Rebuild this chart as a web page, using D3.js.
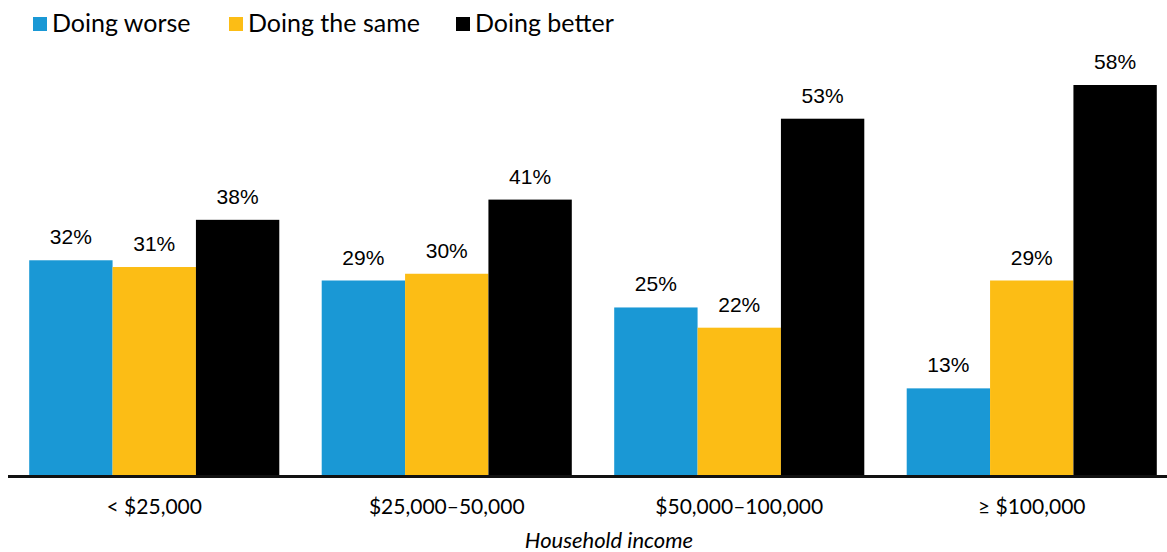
<!DOCTYPE html>
<html>
<head>
<meta charset="utf-8">
<script src="https://cdn.jsdelivr.net/npm/d3@7"></script>
<style>
  html, body { margin: 0; padding: 0; background: #fff; }
  svg { display: block; }
  text { fill: #000; }
</style>
</head>
<body>
<div id="chart"></div>
<script>
// data
var incomes = ["< $25,000", "$25,000\u201350,000", "$50,000\u2013100,000", "\u2265 $100,000"];
var series = ["Doing worse", "Doing the same", "Doing better"];
var worse = [32, 29, 25, 13];
var same = [31, 30, 22, 29];
var better = [38, 41, 53, 58];
var colors = ["#1a98d5", "#fcbd15", "#000000"];

var width = 1167, height = 552;

var svg = d3.select("#chart").append("svg")
  .attr("width", width)
  .attr("height", height);

var values = [worse, same, better];
var data = incomes.map(function(c, i) {
  return series.map(function(s, j) { return { key: s, value: values[j][i], color: colors[j] }; });
});

var x = d3.scaleBand()
  .domain(incomes)
  .range([8, 1178])
  .paddingInner(0.145)
  .paddingOuter(0.0725);

var xs = d3.scaleBand()
  .domain(series)
  .range([0, x.bandwidth()]);

var y = d3.scaleLinear()
  .domain([0, 58])
  .range([476, 85]);

var group = svg.selectAll(".group")
  .data(data)
  .join("g")
    .attr("class", "group")
    .attr("transform", (d, i) => `translate(${x(incomes[i])},0)`);

group.selectAll("rect")
  .data(d => d)
  .join("rect")
    .attr("x", d => xs(d.key))
    .attr("y", d => y(d.value))
    .attr("width", xs.bandwidth())
    .attr("height", d => y(0) - y(d.value))
    .style("fill", d => d.color);

group.selectAll(".value")
  .data(d => d)
  .join("text")
    .attr("class", "value")
    .attr("x", d => xs(d.key) + xs.bandwidth() / 2)
    .attr("y", d => y(d.value) - 16)
    .attr("text-anchor", "middle")
    .style("font-family", "'Liberation Sans', Arial, sans-serif")
    .style("font-size", "21px")
    .text(d => d.value + "%");

// x axis
var axis = svg.append("g")
  .attr("transform", `translate(0,${y(0)})`)
  .call(d3.axisBottom(x).tickSize(0).tickPadding(23));

axis.select(".domain")
  .attr("d", "M8,0.5H1167")
  .attr("stroke", "#111")
  .attr("stroke-width", 3);

axis.selectAll(".tick text")
  .style("font-family", "Lato, sans-serif")
  .style("font-size", "21px")
  .attr("fill", "#000");

svg.append("text")
  .attr("x", 609)
  .attr("y", 548)
  .attr("text-anchor", "middle")
  .style("font-family", "Lato, sans-serif")
  .style("font-style", "italic")
  .style("font-size", "22px")
  .text("Household income");

// legend
var legendX = [33, 229, 456];
var legend = svg.append("g")
  .attr("class", "legend")
  .selectAll("g")
  .data(series)
  .join("g")
    .attr("transform", (d, i) => `translate(${legendX[i]},17)`);

legend.append("rect")
  .attr("width", 14)
  .attr("height", 14)
  .style("fill", (d, i) => colors[i]);

legend.append("text")
  .attr("x", 19)
  .attr("y", 15)
  .style("font-family", "Lato, sans-serif")
  .style("font-size", "25px")
  .text(d => d);
</script>
</body>
</html>
